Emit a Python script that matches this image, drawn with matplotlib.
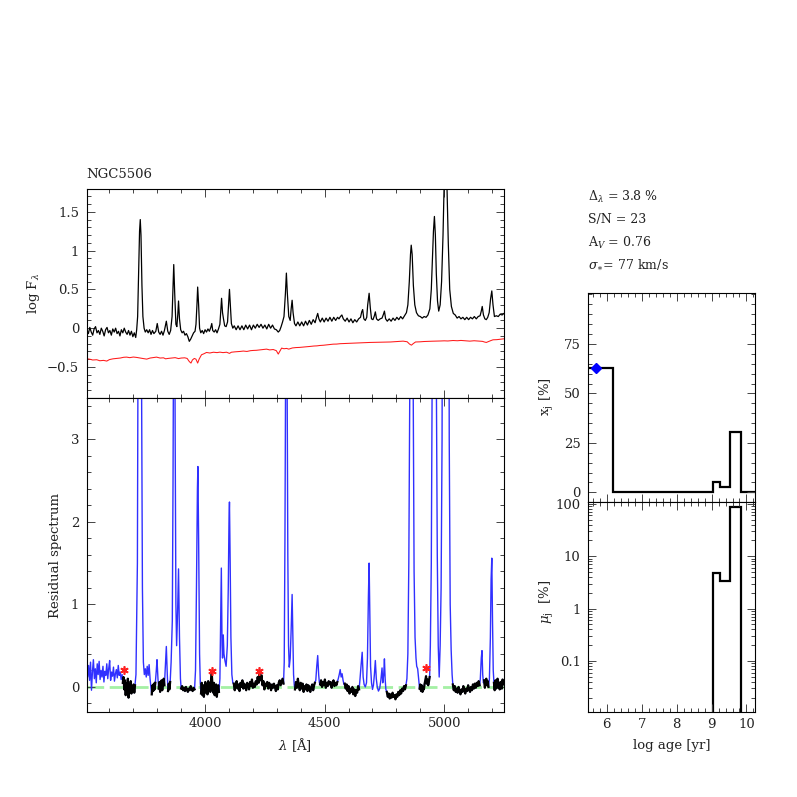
import numpy as np
import matplotlib
matplotlib.use('Agg')
import matplotlib.pyplot as plt
from matplotlib.ticker import MultipleLocator, FixedLocator, FixedFormatter, FuncFormatter, LogLocator, NullFormatter

plt.rcParams['font.family'] = ['DejaVu Serif']
plt.rcParams['mathtext.fontset'] = 'dejavuserif'

# ---------------- data ----------------
galaxy = 'NGC5506'
info_lines = [r'$\Delta_\lambda$ = 3.8 %', 'S/N = 23', r'A$_V$ = 0.76', r'$\sigma_{\ast}$= 77 km/s']

# observed spectrum, log F_lambda  (wavelength, value)
obs_spec = [
 (3505,-0.02),(3512,-0.07),(3518,0.01),(3524,-0.05),(3530,-0.09),(3536,-0.01),(3542,0.02),(3548,-0.06),
 (3554,-0.03),(3560,-0.08),(3566,0.00),(3572,-0.04),(3578,-0.10),(3584,-0.02),(3590,0.01),(3596,-0.06),
 (3602,-0.03),(3608,-0.09),(3614,-0.01),(3620,-0.05),(3626,0.00),(3632,-0.07),(3638,-0.04),(3644,-0.10),
 (3650,-0.02),(3656,-0.06),(3662,0.00),(3668,-0.05),(3674,-0.08),(3680,-0.03),(3686,-0.09),(3692,-0.04),
 (3698,-0.11),(3704,-0.06),(3710,-0.12),(3714,-0.02),(3718,0.15),(3722,0.70),(3726,1.25),(3729,1.40),
 (3732,1.20),(3736,0.55),(3740,0.15),(3745,0.00),(3750,-0.05),(3756,-0.02),(3762,-0.06),(3768,-0.02),
 (3774,-0.08),(3780,-0.03),(3786,-0.07),(3794,-0.04),(3800,0.06),(3806,-0.05),(3812,-0.08),(3818,-0.04),
 (3824,-0.09),(3830,-0.03),(3838,0.09),(3844,-0.04),(3850,-0.08),(3856,-0.03),(3862,0.15),(3866,0.55),
 (3869,0.82),(3873,0.45),(3878,0.05),(3882,0.02),(3886,0.18),(3889,0.35),(3893,0.12),(3898,-0.02),
 (3904,-0.06),(3910,-0.04),(3916,-0.09),(3922,-0.07),(3928,-0.11),(3934,-0.17),(3940,-0.14),(3946,-0.10),
 (3952,-0.06),(3958,-0.04),(3962,0.05),(3966,0.30),(3969,0.53),(3973,0.30),(3977,0.00),(3982,-0.06),
 (3988,-0.03),(3994,-0.07),(4000,-0.02),(4006,-0.05),(4012,-0.01),(4018,-0.04),(4024,0.01),(4028,0.06),
 (4032,-0.03),(4038,-0.05),(4044,-0.02),(4050,-0.06),(4056,-0.01),(4062,0.05),(4066,0.25),(4069,0.385),
 (4073,0.20),(4077,0.12),(4082,0.03),(4088,0.02),(4094,0.08),(4098,0.30),(4102,0.50),(4106,0.28),
 (4110,0.06),(4116,0.00),(4122,0.03),(4130,-0.02),(4138,0.03),(4146,-0.02),(4154,0.03),(4162,-0.02),
 (4170,0.04),(4178,-0.01),(4186,0.04),(4194,-0.02),(4202,0.04),(4210,0.00),(4218,0.05),(4226,0.01),
 (4234,0.05),(4242,0.00),(4250,0.04),(4258,-0.01),(4266,0.05),(4274,0.00),(4282,0.04),(4290,-0.01),
 (4298,-0.02),(4306,-0.05),(4312,-0.03),(4318,0.02),(4324,0.08),(4330,0.15),(4336,0.45),(4340,0.71),
 (4344,0.45),(4350,0.15),(4356,0.10),(4360,0.25),(4364,0.36),(4368,0.20),(4374,0.06),(4380,0.03),
 (4388,0.08),(4396,0.03),(4404,0.08),(4412,0.03),(4420,0.09),(4428,0.04),(4436,0.10),(4444,0.05),
 (4452,0.11),(4460,0.07),(4466,0.14),(4471,0.19),(4476,0.12),(4482,0.08),(4490,0.13),(4498,0.08),
 (4506,0.13),(4514,0.09),(4522,0.14),(4530,0.09),(4538,0.14),(4546,0.10),(4554,0.14),(4560,0.12),
 (4566,0.15),(4572,0.17),(4578,0.12),(4586,0.09),(4594,0.13),(4602,0.08),(4610,0.12),(4618,0.07),
 (4626,0.11),(4634,0.08),(4642,0.12),(4650,0.14),(4655,0.21),(4659,0.24),(4664,0.12),(4670,0.10),
 (4676,0.14),(4680,0.30),(4686,0.45),(4691,0.26),(4696,0.12),(4702,0.11),(4708,0.16),(4712,0.21),
 (4717,0.12),(4724,0.10),(4732,0.12),(4740,0.13),(4746,0.18),(4750,0.22),(4755,0.12),(4762,0.09),
 (4770,0.12),(4778,0.09),(4786,0.13),(4794,0.10),(4802,0.14),(4810,0.11),(4818,0.15),(4826,0.12),
 (4834,0.16),(4842,0.20),(4848,0.30),(4854,0.60),(4859,0.95),(4862,1.07),(4866,0.95),(4871,0.55),
 (4877,0.30),(4884,0.20),(4892,0.16),(4900,0.15),(4908,0.13),(4916,0.15),(4924,0.14),(4932,0.17),
 (4940,0.25),(4946,0.50),(4951,0.90),(4955,1.25),(4959,1.44),(4963,1.20),(4967,0.70),(4972,0.35),
 (4977,0.22),(4983,0.30),(4989,0.60),(4995,1.20),(5000,1.90),(5006,2.40),(5011,1.90),(5017,1.10),
 (5023,0.50),(5030,0.28),(5038,0.19),(5046,0.17),(5054,0.13),(5062,0.15),(5070,0.12),(5078,0.14),
 (5086,0.11),(5094,0.14),(5102,0.11),(5110,0.14),(5118,0.12),(5126,0.15),(5134,0.12),(5142,0.15),
 (5150,0.16),(5155,0.22),(5159,0.28),(5164,0.17),(5170,0.12),(5176,0.11),(5182,0.14),(5188,0.20),
 (5194,0.38),(5199,0.48),(5204,0.30),(5210,0.15),(5218,0.16),(5226,0.15),(5234,0.18),(5242,0.17),
 (5250,0.19)]

# model spectrum (offset, red)
model_spec = [
 (3505,-0.394),(3518,-0.40),(3530,-0.41),(3547,-0.407),(3560,-0.42),(3575,-0.415),(3589,-0.424),
 (3600,-0.405),(3615,-0.395),(3630,-0.39),(3645,-0.385),(3660,-0.375),(3672,-0.373),(3685,-0.38),
 (3700,-0.372),(3714,-0.377),(3728,-0.385),(3742,-0.392),(3756,-0.399),(3770,-0.385),(3785,-0.378),
 (3797,-0.373),(3812,-0.385),(3826,-0.382),(3835,-0.395),(3845,-0.39),(3860,-0.385),(3875,-0.38),
 (3889,-0.392),(3900,-0.385),(3915,-0.382),(3925,-0.39),(3934,-0.43),(3941,-0.45),(3947,-0.41),
 (3955,-0.39),(3962,-0.40),(3969,-0.45),(3975,-0.40),(3985,-0.343),(3995,-0.33),(4006,-0.313),
 (4020,-0.32),(4035,-0.31),(4050,-0.315),(4062,-0.309),(4075,-0.315),(4090,-0.31),(4102,-0.325),
 (4110,-0.31),(4125,-0.305),(4146,-0.30),(4160,-0.295),(4175,-0.30),(4190,-0.29),(4201,-0.287),
 (4215,-0.285),(4230,-0.28),(4245,-0.275),(4257,-0.27),(4270,-0.28),(4285,-0.275),(4298,-0.29),
 (4306,-0.334),(4312,-0.30),(4320,-0.257),(4330,-0.265),(4341,-0.261),(4350,-0.27),(4365,-0.255),
 (4380,-0.25),(4395,-0.248),(4410,-0.244),(4425,-0.24),(4440,-0.235),(4455,-0.23),(4468,-0.228),
 (4480,-0.223),(4495,-0.22),(4510,-0.215),(4522,-0.212),(4536,-0.206),(4550,-0.205),(4565,-0.20),
 (4580,-0.198),(4595,-0.196),(4610,-0.195),(4619,-0.193),(4635,-0.19),(4650,-0.189),(4668,-0.186),
 (4689,-0.184),(4705,-0.183),(4720,-0.182),(4740,-0.181),(4758,-0.18),(4775,-0.178),(4790,-0.175),
 (4810,-0.172),(4828,-0.167),(4845,-0.175),(4855,-0.205),(4863,-0.219),(4870,-0.20),(4880,-0.178),
 (4898,-0.176),(4915,-0.172),(4930,-0.17),(4950,-0.168),(4967,-0.167),(4985,-0.165),(5000,-0.163),
 (5015,-0.165),(5037,-0.159),(5055,-0.162),(5070,-0.158),(5090,-0.163),(5107,-0.167),(5125,-0.162),
 (5140,-0.165),(5160,-0.17),(5168,-0.178),(5176,-0.184),(5185,-0.172),(5195,-0.16),(5204,-0.15),
 (5220,-0.148),(5235,-0.142),(5250,-0.137)]

# residual spectrum (wavelength, value)
resid_spec = [
 (3505,0.20),(3509,0.12),(3513,0.26),(3517,0.08),(3521,0.30),(3525,-0.04),(3529,0.18),(3533,0.33),
 (3537,0.10),(3541,0.22),(3545,0.05),(3549,0.28),(3553,0.15),(3557,0.31),(3561,0.09),(3565,0.20),
 (3569,0.12),(3573,0.25),(3577,0.06),(3581,0.19),(3585,0.14),(3589,0.28),(3593,0.10),(3597,0.22),
 (3601,0.32),(3605,0.08),(3609,0.18),(3613,0.13),(3617,0.24),(3621,0.07),(3625,0.16),(3629,0.21),
 (3633,0.11),(3637,0.26),(3641,0.14),(3645,0.18),(3649,0.09),(3653,0.15),
 (3656,0.05),(3659,0.12),(3662,-0.03),(3665,0.08),(3668,-0.10),(3671,0.04),(3674,-0.06),(3677,0.10),
 (3680,-0.13),(3683,0.02),(3686,-0.05),(3689,0.07),(3692,-0.08),(3695,0.01),(3698,-0.04),(3701,0.03),
 (3704,-0.07),(3707,0.02),
 (3711,0.15),(3717,1.5),(3720,4.5),(3724,16),(3728,24),(3731,14),(3734,4.0),(3738,1.2),(3742,0.3),
 (3746,0.15),(3750,0.22),(3754,0.12),(3758,0.25),(3762,0.14),(3766,0.27),(3770,0.10),(3774,-0.02),
 (3777,-0.09),(3780,0.02),(3783,-0.05),(3786,0.04),(3789,-0.03),(3792,0.05),
 (3796,0.20),(3799,0.33),(3803,0.10),
 (3806,-0.02),(3809,0.06),(3812,-0.06),(3815,0.03),(3818,0.08),(3821,-0.04),(3824,0.05),(3827,0.10),
 (3830,0.02),
 (3834,0.25),(3838,0.49),(3842,0.15),
 (3845,-0.05),(3848,0.04),(3851,-0.03),(3854,0.06),
 (3858,0.3),(3863,0.8),(3866,2.5),(3869,5.0),(3872,5.6),(3875,3.0),(3878,1.0),(3881,0.5),(3885,0.9),
 (3889,1.43),(3893,0.6),(3897,0.1),
 (3900,-0.02),(3904,0.01),(3908,-0.04),(3912,-0.01),(3916,-0.05),(3920,0.00),(3924,-0.03),(3928,-0.06),
 (3932,-0.02),(3936,-0.04),(3940,0.01),(3944,-0.03),(3948,-0.05),(3952,-0.01),(3956,-0.03),
 (3960,0.2),(3964,1.2),(3968,2.4),(3970,2.67),(3973,1.8),(3977,0.4),(3980,0.05),
 (3983,-0.08),(3986,0.05),(3989,-0.10),(3992,0.02),(3995,-0.12),(3998,-0.02),(4001,0.06),(4004,-0.07),
 (4007,0.03),(4010,-0.09),(4013,0.07),(4016,-0.04),(4019,0.04),(4022,-0.06),(4025,0.09),(4028,0.16),
 (4031,0.02),(4034,-0.07),(4037,0.05),(4040,-0.10),(4043,-0.02),(4046,0.03),(4049,-0.12),(4052,-0.04),
 (4055,0.02),(4058,-0.06),
 (4062,0.1),(4065,0.8),(4068,1.44),(4071,0.5),(4073,0.35),(4076,0.63),(4079,0.40),(4083,0.32),
 (4088,0.25),(4093,0.5),(4097,1.2),(4100,2.0),(4102,2.24),(4105,1.5),(4108,0.6),(4112,0.15),(4116,0.05),
 (4120,0.04),(4124,-0.04),(4128,0.02),(4132,0.07),(4136,-0.02),(4140,0.03),(4144,-0.05),(4148,0.05),
 (4152,0.00),(4156,0.08),(4160,-0.02),(4164,0.04),(4168,0.01),(4172,-0.04),(4176,0.05),(4180,0.02),
 (4184,-0.03),(4188,0.06),(4192,0.01),(4196,0.09),(4200,-0.01),(4204,0.04),(4208,0.00),(4212,0.07),
 (4216,0.03),(4220,0.12),(4224,0.05),(4228,0.16),(4232,0.08),(4236,0.14),(4240,0.02),(4244,0.07),
 (4248,-0.03),(4252,0.04),(4256,0.01),(4260,0.06),(4264,-0.02),(4268,0.05),(4272,0.02),(4276,-0.04),
 (4280,0.03),(4284,-0.01),(4288,0.04),(4292,0.00),(4296,-0.05),(4300,0.02),(4304,-0.03),(4308,0.05),
 (4312,0.08),(4316,0.02),(4320,0.06),(4324,0.10),(4328,0.04),
 (4331,0.3),(4334,1.8),(4337,4.0),(4340,4.3),(4343,3.8),(4346,1.6),(4349,0.5),(4352,0.24),(4356,0.35),
 (4360,0.7),(4364,1.12),(4367,0.6),(4370,0.15),(4373,0.02),
 (4376,-0.03),(4380,0.06),(4384,-0.01),(4388,0.10),(4392,0.02),(4396,-0.04),(4400,0.05),(4404,-0.02),
 (4408,0.04),(4412,-0.06),(4416,0.01),(4420,-0.03),(4424,0.03),(4428,-0.05),(4432,0.02),(4436,-0.01),
 (4440,-0.06),(4444,0.00),(4448,0.03),(4452,-0.04),(4456,0.02),(4459,0.05),
 (4463,0.08),(4467,0.25),(4471,0.38),(4475,0.15),(4478,0.05),
 (4481,0.03),(4485,0.08),(4489,0.00),(4493,0.06),(4497,0.02),(4501,0.09),(4505,-0.01),(4509,0.05),
 (4513,0.01),(4517,0.07),(4521,0.03),(4525,0.06),(4529,-0.01),(4533,0.04),(4537,0.08),(4541,0.01),
 (4545,0.05),(4549,0.02),(4553,0.06),
 (4557,0.10),(4561,0.15),(4565,0.21),(4569,0.12),(4573,0.16),(4577,0.08),(4581,0.03),
 (4584,0.04),(4588,-0.02),(4592,0.03),(4596,-0.05),(4600,0.01),(4604,-0.08),(4608,-0.02),(4612,-0.06),
 (4616,0.00),(4620,-0.09),(4624,-0.03),(4628,-0.11),(4632,-0.04),(4636,-0.07),(4640,0.01),(4644,-0.03),
 (4648,0.10),(4652,0.25),(4657,0.42),(4661,0.12),(4665,0.03),(4670,0.0),(4675,0.05),(4679,0.35),
 (4683,1.1),(4686,1.50),(4689,0.9),(4692,0.25),(4696,0.05),(4700,-0.03),(4704,0.02),(4708,0.15),
 (4712,0.32),(4716,0.10),(4720,0.0),(4725,-0.05),(4730,-0.02),(4735,0.08),(4740,0.23),(4743,0.05),
 (4747,0.15),(4750,0.34),(4753,0.10),(4756,-0.03),
 (4760,-0.06),(4764,-0.12),(4768,-0.08),(4772,-0.14),(4776,-0.09),(4780,-0.13),(4784,-0.07),(4788,-0.12),
 (4792,-0.10),(4796,-0.15),(4800,-0.09),(4804,-0.12),(4808,-0.06),(4812,-0.10),(4816,-0.04),(4820,-0.08),
 (4824,-0.02),(4828,-0.05),(4832,0.01),(4836,-0.03),(4840,0.02),
 (4844,0.10),(4848,0.4),(4852,1.5),(4856,3.6),(4860,8.0),(4863,10.4),(4866,8.5),(4870,3.8),(4874,1.4),
 (4878,0.6),(4882,0.35),(4885,0.25),(4889,0.22),(4893,0.10),
 (4897,-0.02),(4900,0.03),(4903,-0.05),(4906,0.02),(4909,-0.06),(4912,0.00),(4915,-0.03),(4918,0.04),
 (4921,0.08),(4924,0.13),(4927,0.04),(4930,0.09),(4933,0.02),(4936,0.06),(4939,0.12),
 (4942,0.5),(4946,1.5),(4950,4.0),(4955,15),(4959,27),(4963,16),(4967,3.8),(4971,1.6),(4975,0.5),
 (4979,0.12),(4983,0.5),(4987,1.2),(4991,3.0),(4995,8),(5000,60),(5007,250),(5013,60),(5018,8),
 (5021,3.0),(5025,1.0),(5029,0.45),(5033,0.15),
 (5036,0.03),(5040,-0.04),(5044,0.01),(5048,-0.06),(5052,-0.02),(5056,-0.07),(5060,0.00),(5064,-0.05),
 (5068,-0.09),(5072,-0.03),(5076,-0.06),(5080,0.01),(5084,-0.04),(5088,-0.08),(5092,-0.02),(5096,-0.05),
 (5100,0.02),(5104,-0.03),(5108,-0.06),(5112,0.00),(5116,-0.04),(5120,0.03),(5124,-0.02),(5128,0.04),
 (5132,-0.01),(5136,0.05),(5140,0.01),(5144,0.07),(5148,0.02),
 (5151,0.10),(5155,0.35),(5158,0.44),(5161,0.15),(5164,0.05),
 (5167,0.08),(5170,-0.01),(5173,0.06),(5176,0.10),(5179,0.02),(5182,0.07),(5185,0.0),
 (5189,0.1),(5193,0.6),(5196,1.3),(5199,1.56),(5202,0.8),(5205,0.2),
 (5208,0.05),(5211,-0.04),(5214,0.08),(5217,-0.02),(5220,0.03),(5223,0.10),(5226,-0.01),(5229,0.04),
 (5232,-0.03),(5235,0.06),(5238,0.01),(5241,-0.02),(5244,0.09),(5247,0.03),(5250,0.05)]

# wavelength windows used in the fit (drawn in black)
fit_windows = [(3655,3708),(3776,3793),(3805,3831),(3844,3856),(3899,3958),(3982,4060),
               (4119,4330),(4375,4460),(4480,4555),(4583,4646),(4758,4842),(4896,4940),
               (5035,5149),(5166,5186),(5207,5250)]

# clipped points
clipped_wave = [3661, 4027, 4226, 4925]
clipped_val = [0.20, 0.19, 0.19, 0.23]

# population synthesis results
age_edges = [5.47, 6.19, 9.03, 9.25, 9.52, 9.83, 10.23]
xj_pct = [62.7, 0.0, 5.0, 2.6, 30.3, 0.0]
muj_pct = [0.0, 0.0, 4.75, 3.4, 88.7, 0.0]
young_logage = 5.70
young_xj = 62.7

# ---------------- figure ----------------
W = 797.0
fig = plt.figure(figsize=(7.97, 7.97), dpi=100)

def px_axes(x0, y0, x1, y1):
    return fig.add_axes([x0 / W, 1 - y1 / W, (x1 - x0) / W, (y1 - y0) / W])

ax1 = px_axes(86.7, 189.3, 504.0, 398.0)
ax2 = px_axes(86.7, 398.0, 504.0, 711.7)
ax3 = px_axes(588.3, 293.3, 754.5, 501.7)
ax4 = px_axes(588.3, 501.7, 754.5, 712.3)

tcol = '#222222'
fmt = FuncFormatter(lambda v, p: ('%g' % v).replace('-', '\u2212'))

for ax in (ax1, ax2, ax3, ax4):
    ax.tick_params(which='both', direction='in', top=True, right=True, colors='#444444',
                   labelcolor=tcol, labelsize=9.5, width=0.7)
    ax.tick_params(which='major', length=5.5)
    ax.tick_params(which='minor', length=3)
    ax.tick_params(axis='y', which='major', pad=5.5)
    ax.tick_params(axis='x', which='major', pad=4)
    for s in ax.spines.values():
        s.set_linewidth(0.8)
        s.set_color('black')

ow = np.array([p[0] for p in obs_spec]); of = np.array([p[1] for p in obs_spec])
mw = np.array([p[0] for p in model_spec]); mf = np.array([p[1] for p in model_spec])
rw = np.array([p[0] for p in resid_spec]); rf = np.array([p[1] for p in resid_spec])

# top panel
ax1.plot(ow, of, color='black', lw=0.9)
ax1.plot(mw, mf, color='#ff1a1a', lw=0.75)
ax1.set_xlim(3505, 5250)
ax1.set_ylim(-0.9, 1.79)
ax1.xaxis.set_major_locator(MultipleLocator(500))
ax1.xaxis.set_minor_locator(MultipleLocator(100))
ax1.yaxis.set_major_locator(MultipleLocator(0.5))
ax1.yaxis.set_minor_locator(MultipleLocator(0.1))
ax1.yaxis.set_major_formatter(fmt)
ax1.tick_params(axis='x', labelbottom=False)

# residual panel
ax2.plot([3505, 5250], [0, 0], color='#a4f0a4', lw=2.0, dashes=(6, 2), zorder=1)
ax2.plot(rw, rf, color='#3030ff', lw=1.0, zorder=2)
mask = np.zeros(len(rw), dtype=bool)
for a, b in fit_windows:
    mask |= (rw >= a) & (rw <= b)
ax2.plot(rw, np.where(mask, rf, np.nan), color='black', lw=1.6, zorder=3)
ax2.plot(clipped_wave, clipped_val, ls='none', marker=(6, 2, 0), color='#ff2020',
         ms=6, mew=1.2, zorder=4)
ax2.set_xlim(3505, 5250)
ax2.set_ylim(-0.3, 3.5)
ax2.xaxis.set_major_locator(MultipleLocator(500))
ax2.xaxis.set_minor_locator(MultipleLocator(100))
ax2.yaxis.set_major_locator(MultipleLocator(1))
ax2.yaxis.set_minor_locator(MultipleLocator(0.2))
ax2.yaxis.set_major_formatter(fmt)
ax2.xaxis.set_major_formatter(fmt)

# x_j panel
ax3.stairs(xj_pct, age_edges, baseline=None, color='black', lw=1.6)
ax3.plot([young_logage], [young_xj], ls='none', marker='D', color='#0000ff', ms=5.5, zorder=5,
         clip_on=False)
ax3.set_xlim(5.47, 10.23)
ax3.set_ylim(-4.75, 100.6)
ax3.xaxis.set_major_locator(MultipleLocator(1))
ax3.xaxis.set_minor_locator(MultipleLocator(0.2))
ax3.yaxis.set_major_locator(FixedLocator([0, 25, 50, 75]))
ax3.yaxis.set_minor_locator(MultipleLocator(5))
ax3.yaxis.set_major_formatter(fmt)
ax3.tick_params(axis='x', labelbottom=False)

# mu_j panel
mu_plot = [v if v > 0 else 1e-6 for v in muj_pct]
ax4.stairs(mu_plot, age_edges, baseline=None, color='black', lw=1.6)
ax4.set_yscale('log')
ax4.set_xlim(5.47, 10.23)
ax4.set_ylim(0.0105, 110)
ax4.xaxis.set_major_locator(MultipleLocator(1))
ax4.xaxis.set_minor_locator(MultipleLocator(0.2))
ax4.yaxis.set_major_locator(FixedLocator([0.1, 1, 10, 100]))
ax4.yaxis.set_major_formatter(FixedFormatter(['0.1', '1', '10', '100']))
ax4.yaxis.set_minor_locator(LogLocator(base=10, subs=np.arange(2, 10)))
ax4.yaxis.set_minor_formatter(NullFormatter())
ax4.xaxis.set_major_formatter(fmt)

# texts
def ftext(x, y, s, **kw):
    kw.setdefault('color', tcol)
    kw.setdefault('fontsize', 9.5)
    fig.text(x / W, 1 - y / W, s, **kw)

ftext(86.7, 175, galaxy, ha='left', va='center')
for yy, s in zip([196.7, 219.3, 242.7, 265.0], info_lines):
    ftext(588.3, yy, s, ha='left', va='center', fontsize=9)
ftext(33, 293.6, r'log F$_\lambda$', rotation=90, ha='center', va='center')
ftext(55.7, 555, 'Residual spectrum', rotation=90, ha='center', va='center')
ftext(295.3, 745, r'$\lambda$ [Å]', ha='center', va='center')
ftext(546.7, 397, r'x$_\mathrm{j}$ [%]', rotation=90, ha='center', va='center')
ftext(546.7, 602, r'$\mu_\mathrm{j}$  [%]', rotation=90, ha='center', va='center')
ftext(671.4, 745, 'log age [yr]', ha='center', va='center')

fig.savefig('out.png', dpi=100)
